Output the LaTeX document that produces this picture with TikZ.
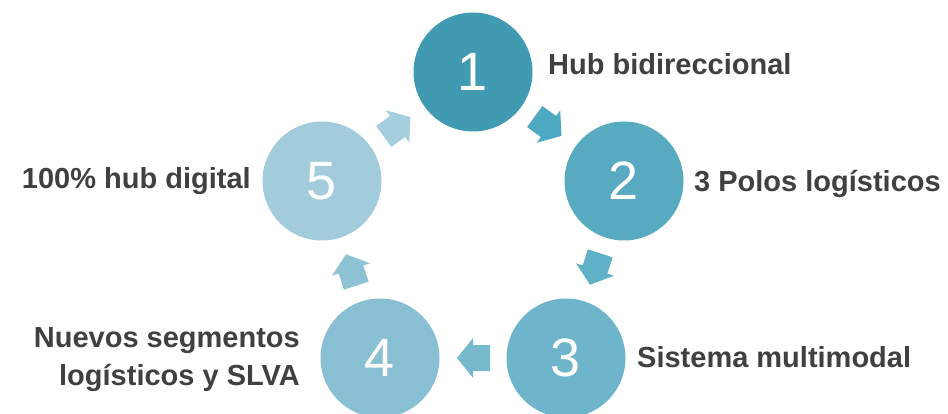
\documentclass[tikz,border=0pt]{standalone}
\usepackage{fontspec}
\setmainfont{Liberation Sans}
\usetikzlibrary{calc}
\definecolor{cA}{HTML}{409BB2}
\definecolor{cB}{HTML}{58AAC0}
\definecolor{cC}{HTML}{6EB4CA}
\definecolor{cD}{HTML}{88BFD2}
\definecolor{cE}{HTML}{A2CBDC}
\definecolor{aA}{HTML}{4DA8C1}
\definecolor{aB}{HTML}{60B0C8}
\definecolor{aC}{HTML}{77BACE}
\definecolor{aD}{HTML}{8EC3D5}
\definecolor{aE}{HTML}{A5CEDE}
\definecolor{txt}{HTML}{404040}
\tikzset{
  numcircle/.style={circle, minimum size=119pt, inner sep=0pt, text=white,
    font=\fontsize{54}{54}\selectfont},
  lbl/.style={inner sep=0pt, text=txt, font=\fontsize{29}{38}\selectfont\bfseries},
  blockarrow/.pic={\fill (-17,-13) -- (0,-13) -- (0,-20) -- (16,0) -- (0,20) -- (0,13) -- (-17,13) -- cycle;}
}
\newcommand{\cyclearrow}[3]{%
  \path let \p1=(#1), \p2=(#2), \n1={atan2(\y2-\y1,\x2-\x1)} in
    ($(#1)!0.5!(#2)$) pic[fill=#3, rotate=\n1] {blockarrow};}
\begin{document}
\begin{tikzpicture}[x=1pt,y=-1pt]
\useasboundingbox (0,0) rectangle (948,414);
\clip (0,0) rectangle (948,414);
\node[numcircle, fill=cA] (c1) at (473,72) {1};
\node[numcircle, fill=cB] (c2) at (624,181) {2};
\node[numcircle, fill=cC] (c3) at (566,358) {3};
\node[numcircle, fill=cD] (c4) at (380,358) {4};
\node[numcircle, fill=cE] (c5) at (322,181) {5};
\cyclearrow{c1}{c2}{aA}
\cyclearrow{c2}{c3}{aB}
\cyclearrow{c3}{c4}{aC}
\cyclearrow{c4}{c5}{aD}
\cyclearrow{c5}{c1}{aE}
\node[lbl, anchor=base west] (l1) at (548,75) {Hub bidireccional};
\node[lbl, anchor=base west] (l2) at (694,192) {3 Polos logísticos};
\node[lbl, anchor=base west] (l3) at (637,367) {Sistema multimodal};
\node[lbl, anchor=base east] (l4a) at (300,347) {Nuevos segmentos};
\node[lbl, anchor=base east] (l4b) at (300,385) {logísticos y SLVA};
\node[lbl, anchor=base east] (l5) at (251,189) {100\% hub digital};
\end{tikzpicture}
\end{document}
